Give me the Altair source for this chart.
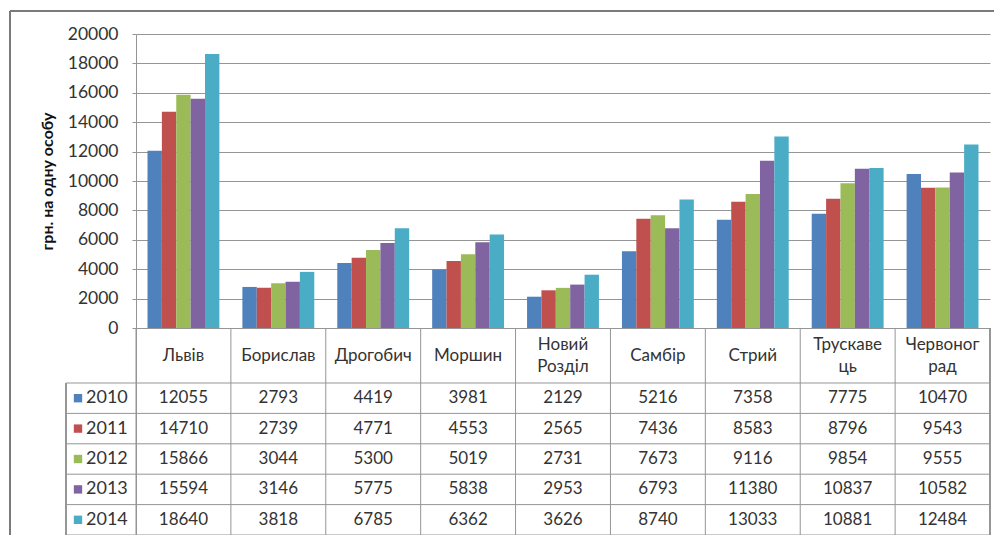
import altair as alt
import pandas as pd

# ---------------- data ----------------
cats = ["Львів", "Борислав", "Дрогобич", "Моршин", "Новий Розділ",
        "Самбір", "Стрий", "Трускавець", "Червоноград"]
cat_labels = ["Львів", "Борислав", "Дрогобич", "Моршин", "Новий\nРозділ",
              "Самбір", "Стрий", "Трускаве\nць", "Червоног\nрад"]
years = ["2010", "2011", "2012", "2013", "2014"]
v2010 = [12055, 2793, 4419, 3981, 2129, 5216, 7358, 7775, 10470]
v2011 = [14710, 2739, 4771, 4553, 2565, 7436, 8583, 8796, 9543]
v2012 = [15866, 3044, 5300, 5019, 2731, 7673, 9116, 9854, 9555]
v2013 = [15594, 3146, 5775, 5838, 2953, 6793, 11380, 10837, 10582]
v2014 = [18640, 3818, 6785, 6362, 3626, 8740, 13033, 10881, 12484]
colors = ["#4F81BD", "#C0504D", "#9BBB59", "#8064A2", "#4BACC6"]
y_ticks = list(range(0, 20001, 2000))
y_title = "грн. на одну особу"

series = [v2010, v2011, v2012, v2013, v2014]

# ---------------- layout (table geometry in pixels below the zero line) ----------------
W = 854
PLOT_PX = 294            # pixels from 0 to 20000
HEADER_PX = 55
ROW_PX = 30.4
LINE_H = 22
TABLE_PX = HEADER_PX + ROW_PX * len(years)
H = PLOT_PX + TABLE_PX
U = 20000 / PLOT_PX      # value units per pixel
YMIN = -TABLE_PX * U

def below(px):
    return -px * U

rows = []
for yi, (yr, vals) in enumerate(zip(years, series)):
    for c, v in zip(cats, vals):
        rows.append({"cat": c, "year": yr, "value": v,
                     "ty": below(HEADER_PX + ROW_PX * (yi + 0.5))})
df = pd.DataFrame(rows)

leg = pd.DataFrame({"year": years,
                    "ty": [below(HEADER_PX + ROW_PX * (i + 0.5)) for i in range(len(years))]})
hlines = pd.DataFrame({"yb": [below(HEADER_PX + ROW_PX * i) for i in range(len(years) + 1)]})
hdr = pd.DataFrame({
    "cat": cats, "label": cat_labels,
    "ly": [below(HEADER_PX / 2 - (len(l.split("\n")) - 1) * LINE_H / 2) for l in cat_labels],
})

FONT = "Lato"
TXT = "#333333"
LINE = "#959595"

yscale = alt.Scale(domain=[YMIN, 20000], nice=False, zero=False)
xscale = alt.Scale(domain=cats, paddingInner=0, paddingOuter=0)
yaxis = alt.Axis(values=y_ticks, format="d", title=y_title, grid=True, gridColor=LINE,
                 domainColor=LINE, tickColor=LINE, tickSize=4,
                 labelFont=FONT, labelFontSize=17.5, labelColor=TXT,
                 labelPadding=14, titleFont=FONT, titleFontSize=16,
                 titleFontWeight="bold", titleColor="#111",
                 titleX=-89, titleY=PLOT_PX / 2, titleAngle=270,
                 titleAlign="center", titleBaseline="middle")


def Y(field=None, datum=None):
    if datum is not None:
        return alt.Y(datum=datum, scale=yscale, axis=yaxis, title=y_title)
    return alt.Y(field, scale=yscale, axis=yaxis, title=y_title)


bars = alt.Chart(df).mark_bar().encode(
    x=alt.X("cat:N", sort=cats, scale=xscale, axis=None),
    xOffset=alt.XOffset("year:N", sort=years,
                        scale=alt.Scale(domain=years, paddingInner=0, paddingOuter=0.8)),
    y=Y("value:Q"),
    y2=alt.datum(0),
    color=alt.Color("year:N", scale=alt.Scale(domain=years, range=colors), legend=None),
)

h_rules = alt.Chart(hlines).mark_rule(color=LINE, strokeWidth=1).encode(
    x=alt.value(-70), x2=alt.value(W),
    y=Y("yb:Q"),
)

v_rules = alt.Chart(hdr).mark_rule(color=LINE, strokeWidth=1).encode(
    x=alt.X("cat:N", sort=cats, scale=xscale, axis=None, bandPosition=0),
    y=Y(datum=0),
    y2=alt.datum(YMIN),
)

right_rule = alt.Chart(hlines).mark_rule(color=LINE, strokeWidth=1).encode(
    x=alt.value(W),
    y=Y(datum=0),
    y2=alt.datum(YMIN),
)

leg_left = alt.Chart(hlines).mark_rule(color=LINE, strokeWidth=1).encode(
    x=alt.value(-70),
    y=Y(datum=below(HEADER_PX)),
    y2=alt.datum(YMIN),
)

header = alt.Chart(hdr).mark_text(font=FONT, fontSize=17, color=TXT, lineBreak="\n",
                                  baseline="middle", lineHeight=LINE_H).encode(
    x=alt.X("cat:N", sort=cats, scale=xscale, axis=None),
    y=Y("ly:Q"),
    text="label:N",
)

cells = alt.Chart(df).mark_text(font=FONT, fontSize=17, color=TXT, baseline="middle").encode(
    x=alt.X("cat:N", sort=cats, scale=xscale, axis=None),
    y=Y("ty:Q"),
    text=alt.Text("value:Q", format="d"),
)

swatch = alt.Chart(leg).mark_square(size=70, opacity=1).encode(
    x=alt.value(-58),
    y=Y("ty:Q"),
    color=alt.Color("year:N", scale=alt.Scale(domain=years, range=colors), legend=None),
)

leg_text = alt.Chart(leg).mark_text(font=FONT, fontSize=18, color=TXT, align="left",
                                    baseline="middle").encode(
    x=alt.value(-50),
    y=Y("ty:Q"),
    text="year:N",
)

frame_top = alt.Chart(hlines).mark_rule(color="#7a7a7a", strokeWidth=2).encode(
    x=alt.value(-126), x2=alt.value(W + 10), y=alt.value(-23),
)
frame_left = alt.Chart(hlines).mark_rule(color="#7a7a7a", strokeWidth=2).encode(
    x=alt.value(-126), y=alt.value(-23), y2=alt.value(H + 10),
)

chart = alt.layer(
    bars, h_rules, v_rules, right_rule, leg_left, header, cells, swatch, leg_text,
    frame_top, frame_left,
).properties(
    width=W, height=H,
    autosize=alt.AutoSizeParams(type="none"),
    padding={"left": 128, "top": 26, "right": 4, "bottom": 0},
    background="white",
).configure_view(stroke=None)

chart.save("out.html", embed_options={"renderer": "svg", "actions": False})
